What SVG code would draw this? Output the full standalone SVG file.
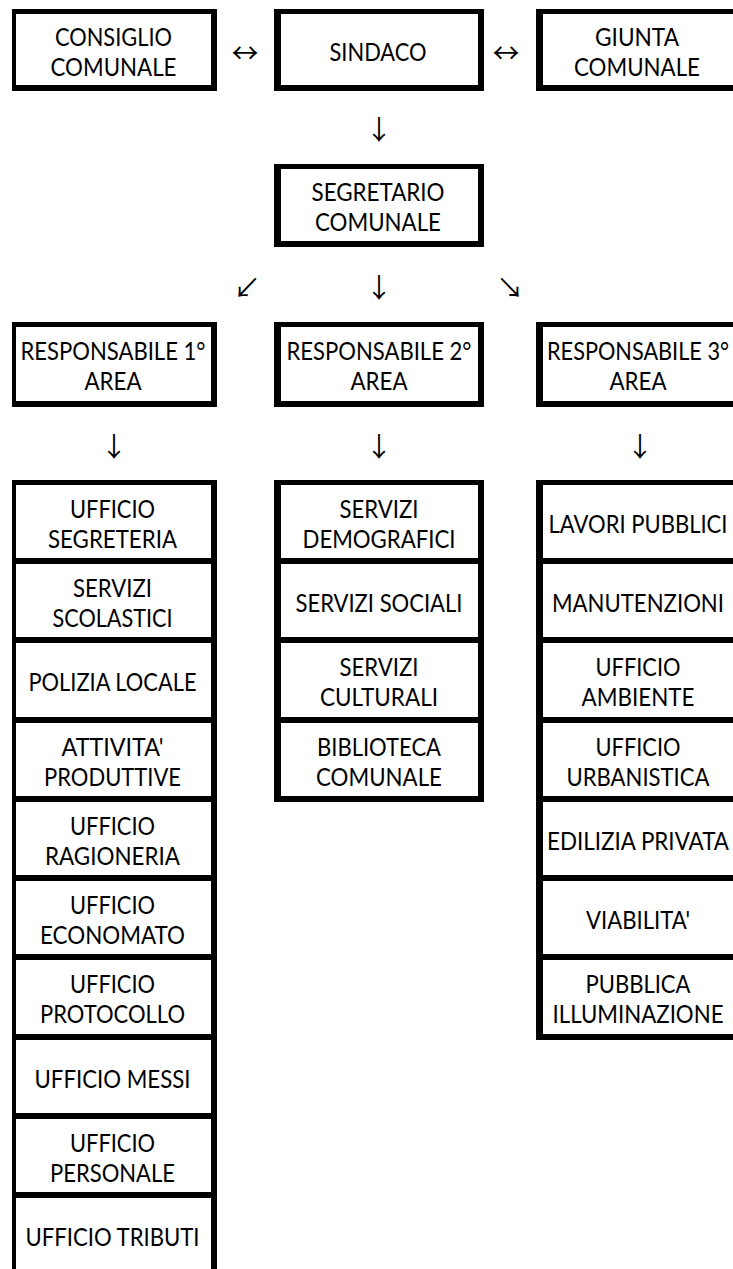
<svg xmlns="http://www.w3.org/2000/svg" width="733" height="1269" viewBox="0 0 733 1269">
<style>
.o{fill:#000}
.i{fill:#fff}
.t{font-family:Lato,"Liberation Sans",sans-serif;font-size:25px;fill:#000;text-anchor:middle}
.a{font-family:"Noto Sans CJK SC","DejaVu Sans",sans-serif;font-size:27px;fill:#000;text-anchor:middle}
</style>
<rect width="733" height="1269" fill="#fff"/>
<g id="connectors">
<text class="a" x="245" y="62.5">↔</text>
<text class="a" x="506" y="62.5">↔</text>
<text class="a" x="379" y="139.5">↓</text>
<text class="a" x="247" y="297.5">↙</text>
<text class="a" x="379" y="297.5">↓</text>
<text class="a" x="510" y="297.5">↘</text>
<text class="a" x="114" y="456.5">↓</text>
<text class="a" x="379" y="456.5">↓</text>
<text class="a" x="640" y="456.5">↓</text>
</g>
<g id="consiglio"><rect class="o" x="12" y="9" width="205" height="82"/><rect class="i" x="16" y="14" width="195" height="71"/>
<text class="t" x="113.5" y="45.5" textLength="117" lengthAdjust="spacingAndGlyphs">CONSIGLIO</text><text class="t" x="113.5" y="75.5" textLength="126" lengthAdjust="spacingAndGlyphs">COMUNALE</text></g>
<g id="sindaco"><rect class="o" x="274" y="9" width="210" height="82"/><rect class="i" x="281" y="14" width="197" height="71"/>
<text class="t" x="378" y="60.5" textLength="97" lengthAdjust="spacingAndGlyphs">SINDACO</text></g>
<g id="giunta"><rect class="o" x="536" y="9" width="210" height="82"/><rect class="i" x="543" y="14" width="200" height="71"/>
<text class="t" x="637" y="45.5" textLength="84" lengthAdjust="spacingAndGlyphs">GIUNTA</text><text class="t" x="637" y="75.5" textLength="126" lengthAdjust="spacingAndGlyphs">COMUNALE</text></g>
<g id="segretario"><rect class="o" x="274" y="164" width="210" height="83"/><rect class="i" x="281" y="169" width="197" height="72"/>
<text class="t" x="378" y="201" textLength="133" lengthAdjust="spacingAndGlyphs">SEGRETARIO</text><text class="t" x="378" y="231" textLength="126" lengthAdjust="spacingAndGlyphs">COMUNALE</text></g>
<g id="resp1"><rect class="o" x="12" y="322" width="205" height="85"/><rect class="i" x="16" y="327" width="195" height="74"/>
<text class="t" x="113" y="360" textLength="185" lengthAdjust="spacingAndGlyphs">RESPONSABILE 1°</text><text class="t" x="113" y="390" textLength="57" lengthAdjust="spacingAndGlyphs">AREA</text></g>
<g id="resp2"><rect class="o" x="274" y="322" width="210" height="85"/><rect class="i" x="281" y="327" width="197" height="74"/>
<text class="t" x="379" y="360" textLength="185" lengthAdjust="spacingAndGlyphs">RESPONSABILE 2°</text><text class="t" x="379" y="390" textLength="57" lengthAdjust="spacingAndGlyphs">AREA</text></g>
<g id="resp3"><rect class="o" x="536" y="322" width="210" height="85"/><rect class="i" x="543" y="327" width="200" height="74"/>
<text class="t" x="638" y="360" textLength="182" lengthAdjust="spacingAndGlyphs">RESPONSABILE 3°</text><text class="t" x="638" y="390" textLength="57" lengthAdjust="spacingAndGlyphs">AREA</text></g>

<g id="c1-segreteria"><rect class="o" x="12" y="480" width="205" height="84"/><rect class="i" x="16" y="485" width="195" height="73"/>
<text class="t" x="112.5" y="517.5" textLength="85" lengthAdjust="spacingAndGlyphs">UFFICIO</text><text class="t" x="112.5" y="547.5" textLength="129" lengthAdjust="spacingAndGlyphs">SEGRETERIA</text></g>
<g id="c1-scolastici"><rect class="o" x="12" y="558" width="205" height="85"/><rect class="i" x="16" y="564" width="195" height="73"/>
<text class="t" x="112.5" y="596.5" textLength="79" lengthAdjust="spacingAndGlyphs">SERVIZI</text><text class="t" x="112.5" y="626.5" textLength="120" lengthAdjust="spacingAndGlyphs">SCOLASTICI</text></g>
<g id="c1-polizia"><rect class="o" x="12" y="637" width="205" height="86"/><rect class="i" x="16" y="643" width="195" height="74"/>
<text class="t" x="112.5" y="691" textLength="168" lengthAdjust="spacingAndGlyphs">POLIZIA LOCALE</text></g>
<g id="c1-attivita"><rect class="o" x="12" y="717" width="205" height="85"/><rect class="i" x="16" y="723" width="195" height="73"/>
<text class="t" x="112.5" y="755.5" textLength="102" lengthAdjust="spacingAndGlyphs">ATTIVITA'</text><text class="t" x="112.5" y="785.5" textLength="137" lengthAdjust="spacingAndGlyphs">PRODUTTIVE</text></g>
<g id="c1-ragioneria"><rect class="o" x="12" y="796" width="205" height="85"/><rect class="i" x="16" y="802" width="195" height="73"/>
<text class="t" x="112.5" y="834.5" textLength="85" lengthAdjust="spacingAndGlyphs">UFFICIO</text><text class="t" x="112.5" y="864.5" textLength="135" lengthAdjust="spacingAndGlyphs">RAGIONERIA</text></g>
<g id="c1-economato"><rect class="o" x="12" y="875" width="205" height="85"/><rect class="i" x="16" y="881" width="195" height="73"/>
<text class="t" x="112.5" y="913.5" textLength="85" lengthAdjust="spacingAndGlyphs">UFFICIO</text><text class="t" x="112.5" y="943.5" textLength="145" lengthAdjust="spacingAndGlyphs">ECONOMATO</text></g>
<g id="c1-protocollo"><rect class="o" x="12" y="954" width="205" height="86"/><rect class="i" x="16" y="960" width="195" height="74"/>
<text class="t" x="112.5" y="993" textLength="85" lengthAdjust="spacingAndGlyphs">UFFICIO</text><text class="t" x="112.5" y="1023" textLength="145" lengthAdjust="spacingAndGlyphs">PROTOCOLLO</text></g>
<g id="c1-messi"><rect class="o" x="12" y="1034" width="205" height="85"/><rect class="i" x="16" y="1040" width="195" height="73"/>
<text class="t" x="112.5" y="1087.5" textLength="156" lengthAdjust="spacingAndGlyphs">UFFICIO MESSI</text></g>
<g id="c1-personale"><rect class="o" x="12" y="1113" width="205" height="85"/><rect class="i" x="16" y="1119" width="195" height="73"/>
<text class="t" x="112.5" y="1151.5" textLength="85" lengthAdjust="spacingAndGlyphs">UFFICIO</text><text class="t" x="112.5" y="1181.5" textLength="125" lengthAdjust="spacingAndGlyphs">PERSONALE</text></g>
<g id="c1-tributi"><rect class="o" x="12" y="1192" width="205" height="100"/><rect class="i" x="16" y="1198" width="195" height="94"/>
<text class="t" x="112.5" y="1245.5" textLength="174" lengthAdjust="spacingAndGlyphs">UFFICIO TRIBUTI</text></g>

<g id="c2-demografici"><rect class="o" x="274" y="480" width="210" height="84"/><rect class="i" x="281" y="485" width="197" height="73"/>
<text class="t" x="379" y="517.5" textLength="79" lengthAdjust="spacingAndGlyphs">SERVIZI</text><text class="t" x="379" y="547.5" textLength="153" lengthAdjust="spacingAndGlyphs">DEMOGRAFICI</text></g>
<g id="c2-sociali"><rect class="o" x="274" y="558" width="210" height="85"/><rect class="i" x="281" y="564" width="197" height="73"/>
<text class="t" x="379" y="611.5" textLength="167" lengthAdjust="spacingAndGlyphs">SERVIZI SOCIALI</text></g>
<g id="c2-culturali"><rect class="o" x="274" y="637" width="210" height="86"/><rect class="i" x="281" y="643" width="197" height="74"/>
<text class="t" x="379" y="676" textLength="79" lengthAdjust="spacingAndGlyphs">SERVIZI</text><text class="t" x="379" y="706" textLength="118" lengthAdjust="spacingAndGlyphs">CULTURALI</text></g>
<g id="c2-biblioteca"><rect class="o" x="274" y="717" width="210" height="85"/><rect class="i" x="281" y="723" width="197" height="73"/>
<text class="t" x="379" y="755.5" textLength="124" lengthAdjust="spacingAndGlyphs">BIBLIOTECA</text><text class="t" x="379" y="785.5" textLength="126" lengthAdjust="spacingAndGlyphs">COMUNALE</text></g>

<g id="c3-lavori"><rect class="o" x="536" y="480" width="210" height="84"/><rect class="i" x="543" y="485" width="200" height="73"/>
<text class="t" x="638" y="532.5" textLength="179" lengthAdjust="spacingAndGlyphs">LAVORI PUBBLICI</text></g>
<g id="c3-manutenzioni"><rect class="o" x="536" y="558" width="210" height="85"/><rect class="i" x="543" y="564" width="200" height="73"/>
<text class="t" x="638" y="611.5" textLength="172" lengthAdjust="spacingAndGlyphs">MANUTENZIONI</text></g>
<g id="c3-ambiente"><rect class="o" x="536" y="637" width="210" height="86"/><rect class="i" x="543" y="643" width="200" height="74"/>
<text class="t" x="638" y="676" textLength="85" lengthAdjust="spacingAndGlyphs">UFFICIO</text><text class="t" x="638" y="706" textLength="113" lengthAdjust="spacingAndGlyphs">AMBIENTE</text></g>
<g id="c3-urbanistica"><rect class="o" x="536" y="717" width="210" height="85"/><rect class="i" x="543" y="723" width="200" height="73"/>
<text class="t" x="638" y="755.5" textLength="85" lengthAdjust="spacingAndGlyphs">UFFICIO</text><text class="t" x="638" y="785.5" textLength="143" lengthAdjust="spacingAndGlyphs">URBANISTICA</text></g>
<g id="c3-edilizia"><rect class="o" x="536" y="796" width="210" height="85"/><rect class="i" x="543" y="802" width="200" height="73"/>
<text class="t" x="638" y="849.5" textLength="182" lengthAdjust="spacingAndGlyphs">EDILIZIA PRIVATA</text></g>
<g id="c3-viabilita"><rect class="o" x="536" y="875" width="210" height="85"/><rect class="i" x="543" y="881" width="200" height="73"/>
<text class="t" x="638" y="928.5" textLength="104" lengthAdjust="spacingAndGlyphs">VIABILITA'</text></g>
<g id="c3-illuminazione"><rect class="o" x="536" y="954" width="210" height="86"/><rect class="i" x="543" y="960" width="200" height="74"/>
<text class="t" x="638" y="993" textLength="105" lengthAdjust="spacingAndGlyphs">PUBBLICA</text><text class="t" x="638" y="1023" textLength="171" lengthAdjust="spacingAndGlyphs">ILLUMINAZIONE</text></g>
</svg>
